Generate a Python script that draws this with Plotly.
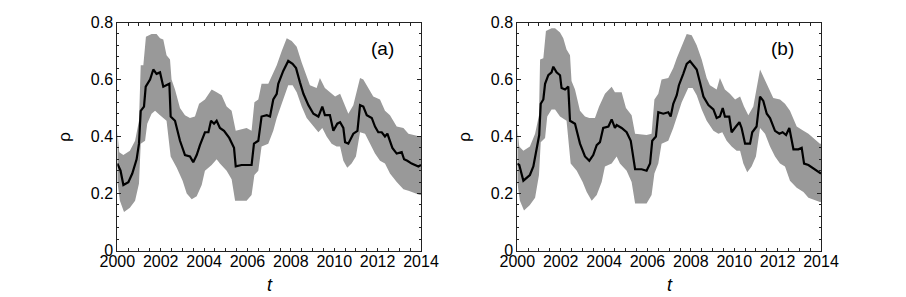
import plotly.graph_objects as go

# ---------------- data ----------------
a_mean_t = [2000.00, 2000.15, 2000.28, 2000.51, 2000.69, 2000.89, 2001.00, 2001.08, 2001.23, 2001.31,
            2001.51, 2001.66, 2001.81, 2001.97, 2002.12, 2002.27, 2002.40, 2002.46, 2002.66, 2002.89,
            2003.12, 2003.35, 2003.50, 2003.66, 2003.81, 2004.04, 2004.20, 2004.32, 2004.46, 2004.58,
            2004.73, 2004.92, 2005.16, 2005.38, 2005.46, 2005.73, 2006.19, 2006.30, 2006.50, 2006.65,
            2006.89, 2007.04, 2007.19, 2007.35, 2007.42, 2007.65, 2007.88, 2008.08, 2008.24, 2008.42,
            2008.58, 2008.81, 2009.04, 2009.27, 2009.45, 2009.57, 2009.80, 2009.96, 2010.14, 2010.27,
            2010.42, 2010.50, 2010.65, 2010.88, 2011.07, 2011.19, 2011.34, 2011.50, 2011.73, 2011.88,
            2012.03, 2012.19, 2012.34, 2012.45, 2012.68, 2012.88, 2013.11, 2013.22, 2013.37, 2013.57,
            2013.88, 2014.00]
a_mean = [0.305, 0.28, 0.23, 0.24, 0.27, 0.32, 0.375, 0.49, 0.505, 0.575,
          0.60, 0.635, 0.62, 0.625, 0.575, 0.58, 0.585, 0.47, 0.455, 0.385,
          0.335, 0.33, 0.31, 0.335, 0.37, 0.415, 0.415, 0.455, 0.445, 0.455,
          0.43, 0.42, 0.395, 0.36, 0.295, 0.30, 0.30, 0.375, 0.385, 0.47,
          0.475, 0.47, 0.53, 0.55, 0.585, 0.63, 0.665, 0.655, 0.64, 0.59,
          0.55, 0.51, 0.48, 0.47, 0.505, 0.475, 0.475, 0.42, 0.445, 0.45,
          0.43, 0.38, 0.375, 0.41, 0.42, 0.51, 0.505, 0.475, 0.465, 0.435,
          0.415, 0.415, 0.40, 0.41, 0.36, 0.34, 0.345, 0.32, 0.315, 0.305,
          0.295, 0.30]

a_up_t = [2000.00, 2000.09, 2000.28, 2000.58, 2000.82, 2001.00, 2001.08, 2001.20, 2001.32, 2001.58,
          2001.81, 2001.97, 2002.12, 2002.27, 2002.43, 2002.50, 2002.66, 2002.89, 2003.12, 2003.35,
          2003.58, 2003.77, 2004.04, 2004.35, 2004.58, 2004.81, 2005.04, 2005.27, 2005.46, 2005.96,
          2006.19, 2006.32, 2006.50, 2006.65, 2006.96, 2007.19, 2007.35, 2007.58, 2007.81, 2008.04,
          2008.27, 2008.50, 2008.73, 2008.88, 2009.19, 2009.34, 2009.57, 2009.80, 2010.04, 2010.27,
          2010.45, 2010.65, 2010.88, 2011.19, 2011.34, 2011.65, 2011.80, 2012.11, 2012.34, 2012.57,
          2012.88, 2013.19, 2013.42, 2013.95, 2014.00]
a_up = [0.42, 0.345, 0.335, 0.35, 0.385, 0.455, 0.65, 0.65, 0.75, 0.76,
        0.76, 0.745, 0.74, 0.685, 0.67, 0.60, 0.565, 0.50, 0.475, 0.465,
        0.47, 0.515, 0.53, 0.565, 0.555, 0.545, 0.505, 0.49, 0.42, 0.43,
        0.42, 0.52, 0.53, 0.585, 0.585, 0.625, 0.65, 0.70, 0.745, 0.735,
        0.715, 0.66, 0.61, 0.58, 0.57, 0.605, 0.57, 0.555, 0.54, 0.55,
        0.515, 0.48, 0.51, 0.605, 0.60, 0.56, 0.54, 0.53, 0.49, 0.475,
        0.435, 0.43, 0.41, 0.40, 0.40]

a_lo_t = [2000.00, 2000.12, 2000.31, 2000.58, 2000.82, 2001.00, 2001.08, 2001.28, 2001.38, 2001.58,
          2001.74, 2001.97, 2002.27, 2002.46, 2002.74, 2003.01, 2003.20, 2003.43, 2003.66, 2003.89,
          2004.04, 2004.35, 2004.58, 2004.73, 2005.04, 2005.27, 2005.43, 2005.96, 2006.19, 2006.32,
          2006.50, 2006.65, 2006.96, 2007.19, 2007.35, 2007.58, 2007.88, 2008.08, 2008.27, 2008.50,
          2008.73, 2009.04, 2009.27, 2009.45, 2009.65, 2009.88, 2010.11, 2010.27, 2010.42, 2010.60,
          2010.80, 2011.00, 2011.19, 2011.42, 2011.65, 2011.88, 2012.11, 2012.34, 2012.57, 2012.88,
          2013.19, 2013.42, 2013.95, 2014.00]
a_lo = [0.245, 0.175, 0.135, 0.15, 0.175, 0.235, 0.375, 0.385, 0.445, 0.48,
        0.49, 0.475, 0.455, 0.33, 0.29, 0.245, 0.20, 0.18, 0.19, 0.23,
        0.28, 0.30, 0.32, 0.305, 0.28, 0.25, 0.175, 0.175, 0.195, 0.265,
        0.28, 0.365, 0.375, 0.42, 0.465, 0.515, 0.58, 0.58, 0.555, 0.505,
        0.465, 0.435, 0.415, 0.43, 0.40, 0.375, 0.365, 0.365, 0.315, 0.29,
        0.305, 0.33, 0.415, 0.41, 0.375, 0.34, 0.315, 0.305, 0.27, 0.24,
        0.215, 0.21, 0.195, 0.195]

b_mean_t = [2000.00, 2000.09, 2000.28, 2000.43, 2000.58, 2000.74, 2000.89, 2001.01, 2001.08, 2001.20,
            2001.28, 2001.43, 2001.58, 2001.66, 2001.81, 2001.97, 2002.04, 2002.20, 2002.35, 2002.43,
            2002.66, 2002.89, 2003.12, 2003.32, 2003.50, 2003.66, 2003.81, 2003.96, 2004.20, 2004.35,
            2004.50, 2004.58, 2004.81, 2005.04, 2005.23, 2005.35, 2005.43, 2005.73, 2005.96, 2006.12,
            2006.22, 2006.39, 2006.50, 2006.73, 2006.96, 2007.07, 2007.19, 2007.35, 2007.45, 2007.65,
            2007.81, 2007.96, 2008.11, 2008.27, 2008.42, 2008.58, 2008.81, 2009.04, 2009.19, 2009.34,
            2009.47, 2009.57, 2009.77, 2009.88, 2010.08, 2010.24, 2010.34, 2010.50, 2010.73, 2010.83,
            2011.03, 2011.19, 2011.34, 2011.50, 2011.65, 2011.88, 2012.08, 2012.23, 2012.39, 2012.54,
            2012.73, 2012.96, 2013.11, 2013.22, 2013.42, 2013.95, 2014.00]
b_mean = [0.305, 0.30, 0.245, 0.255, 0.265, 0.295, 0.35, 0.405, 0.515, 0.53,
          0.585, 0.615, 0.625, 0.645, 0.625, 0.615, 0.57, 0.565, 0.575, 0.455,
          0.445, 0.375, 0.33, 0.315, 0.335, 0.37, 0.38, 0.43, 0.435, 0.46,
          0.43, 0.44, 0.43, 0.415, 0.385, 0.315, 0.285, 0.285, 0.28, 0.305,
          0.385, 0.40, 0.485, 0.48, 0.485, 0.47, 0.515, 0.545, 0.58, 0.62,
          0.655, 0.665, 0.65, 0.635, 0.59, 0.54, 0.51, 0.495, 0.465, 0.47,
          0.50, 0.47, 0.47, 0.415, 0.435, 0.45, 0.43, 0.375, 0.375, 0.415,
          0.435, 0.54, 0.525, 0.48, 0.465, 0.42, 0.41, 0.415, 0.405, 0.43,
          0.355, 0.355, 0.36, 0.305, 0.30, 0.27, 0.27]

b_up_t = [2000.00, 2000.09, 2000.28, 2000.58, 2000.82, 2001.00, 2001.05, 2001.20, 2001.32, 2001.58,
          2001.74, 2001.97, 2002.12, 2002.27, 2002.43, 2002.50, 2002.66, 2002.89, 2003.12, 2003.32,
          2003.58, 2003.77, 2004.04, 2004.35, 2004.50, 2004.81, 2005.01, 2005.27, 2005.43, 2005.96,
          2006.19, 2006.32, 2006.50, 2006.65, 2006.96, 2007.19, 2007.35, 2007.58, 2007.81, 2008.04,
          2008.27, 2008.50, 2008.73, 2008.88, 2009.19, 2009.34, 2009.57, 2009.80, 2010.04, 2010.27,
          2010.45, 2010.65, 2010.88, 2011.19, 2011.34, 2011.65, 2011.80, 2012.11, 2012.34, 2012.57,
          2012.88, 2013.19, 2013.42, 2013.95, 2014.00]
b_up = [0.43, 0.365, 0.35, 0.365, 0.41, 0.475, 0.67, 0.675, 0.77, 0.78,
        0.78, 0.765, 0.745, 0.705, 0.685, 0.595, 0.565, 0.49, 0.47, 0.465,
        0.465, 0.505, 0.55, 0.575, 0.555, 0.555, 0.50, 0.475, 0.41, 0.405,
        0.41, 0.53, 0.55, 0.60, 0.605, 0.64, 0.675, 0.72, 0.76, 0.755,
        0.72, 0.67, 0.605, 0.58, 0.565, 0.605, 0.565, 0.55, 0.53, 0.54,
        0.505, 0.475, 0.505, 0.635, 0.61, 0.56, 0.535, 0.53, 0.515, 0.49,
        0.435, 0.42, 0.41, 0.375, 0.375]

b_lo_t = [2000.00, 2000.12, 2000.31, 2000.58, 2000.82, 2001.00, 2001.08, 2001.28, 2001.38, 2001.58,
          2001.74, 2001.97, 2002.27, 2002.46, 2002.74, 2003.01, 2003.20, 2003.43, 2003.66, 2003.89,
          2004.04, 2004.35, 2004.58, 2004.73, 2005.04, 2005.27, 2005.43, 2005.96, 2006.19, 2006.32,
          2006.50, 2006.65, 2006.96, 2007.19, 2007.35, 2007.58, 2007.88, 2008.08, 2008.27, 2008.50,
          2008.73, 2009.04, 2009.27, 2009.45, 2009.65, 2009.88, 2010.11, 2010.27, 2010.42, 2010.60,
          2010.80, 2011.00, 2011.19, 2011.42, 2011.65, 2011.88, 2012.11, 2012.34, 2012.57, 2012.88,
          2013.19, 2013.42, 2013.95, 2014.00]
b_lo = [0.24, 0.175, 0.14, 0.16, 0.185, 0.265, 0.38, 0.395, 0.47, 0.495,
        0.495, 0.47, 0.455, 0.305, 0.28, 0.24, 0.205, 0.175, 0.195, 0.24,
        0.295, 0.305, 0.33, 0.305, 0.28, 0.24, 0.165, 0.165, 0.195, 0.27,
        0.305, 0.375, 0.385, 0.43, 0.465, 0.52, 0.57, 0.57, 0.545, 0.495,
        0.455, 0.42, 0.41, 0.415, 0.385, 0.365, 0.35, 0.35, 0.305, 0.275,
        0.295, 0.33, 0.43, 0.41, 0.365, 0.33, 0.305, 0.295, 0.245, 0.22,
        0.205, 0.185, 0.17, 0.17]

panel_labels = ["(a)", "(b)"]
y_title = "ρ"
x_title = "t"

# ---------------- figure ----------------
W, H = 906, 297
FONT = "Liberation Sans, Arial, Helvetica, sans-serif"
BAND = "#999999"

fig = go.Figure()

panels = [
    (a_mean_t, a_mean, a_up_t, a_up, a_lo_t, a_lo),
    (b_mean_t, b_mean, b_up_t, b_up, b_lo_t, b_lo),
]
for i, (mt, m, ut, u, lt, lo) in enumerate(panels):
    xa = "x" if i == 0 else "x2"
    ya = "y" if i == 0 else "y2"
    fig.add_trace(go.Scatter(
        x=list(ut) + list(lt)[::-1], y=list(u) + list(lo)[::-1],
        fill="toself", fillcolor=BAND, line=dict(width=0, color=BAND),
        mode="lines", hoverinfo="skip", showlegend=False, xaxis=xa, yaxis=ya))
    fig.add_trace(go.Scatter(
        x=mt, y=m, mode="lines", line=dict(color="black", width=2.2),
        showlegend=False, xaxis=xa, yaxis=ya))

frame = "#222222"
xdoms = [[117.3 / W, 421 / W], [517.3 / W, 821 / W]]
ydom = [1 - 250.5 / H, 1 - 22.5 / H]

common_x = dict(range=[2000, 2014], tickmode="linear", tick0=2000, dtick=2,
                ticks="inside", ticklen=3, tickwidth=1, tickcolor=frame,
                minor=dict(dtick=0.5, ticks="inside", ticklen=3, tickwidth=1, tickcolor=frame),
                showline=True, linecolor=frame, linewidth=1, mirror="allticks",
                showgrid=False, zeroline=False, automargin=False, ticklabelstandoff=-4,
                tickfont=dict(family=FONT, size=16, color="black"))
common_y = dict(range=[0, 0.8], tickmode="linear", tick0=0, dtick=0.2,
                ticks="inside", ticklen=4, tickwidth=1, tickcolor=frame,
                minor=dict(dtick=0.04, ticks="inside", ticklen=2, tickwidth=1, tickcolor=frame),
                showline=True, linecolor=frame, linewidth=1, mirror="allticks",
                showgrid=False, zeroline=False, automargin=False,
                tickfont=dict(family=FONT, size=16, color="black"))

fig.update_layout(
    width=W, height=H,
    margin=dict(l=0, r=0, t=0, b=0, autoexpand=False),
    paper_bgcolor="white", plot_bgcolor="white",
    xaxis=dict(domain=xdoms[0], anchor="y", **common_x),
    yaxis=dict(domain=ydom, anchor="x", **common_y),
    xaxis2=dict(domain=xdoms[1], anchor="y2", **common_x),
    yaxis2=dict(domain=ydom, anchor="x2", **common_y),
    showlegend=False,
)

ann = []
for i in range(2):
    x0 = xdoms[i][0] * W
    ann.append(dict(text=y_title, x=(x0 - 53) / W, y=1 - 136.5 / H, xref="paper", yref="paper",
                    xanchor="center", yanchor="middle",
                    textangle=-90, showarrow=False, font=dict(family=FONT, size=17, color="black")))
    ann.append(dict(text="<i>" + x_title + "</i>", x=(x0 + 153) / W, y=1 - 285 / H,
                    xref="paper", yref="paper", xanchor="center", yanchor="middle", showarrow=False,
                    font=dict(family=FONT, size=18, color="black")))
    ann.append(dict(text=panel_labels[i], x=(x0 + 265) / W, y=1 - 48 / H,
                    xref="paper", yref="paper", xanchor="center", yanchor="middle", showarrow=False,
                    font=dict(family=FONT, size=19, color="black")))
fig.update_layout(annotations=ann)

fig.write_html("out.html", config={"displayModeBar": False},
               post_script="document.body.style.margin='0px';")
